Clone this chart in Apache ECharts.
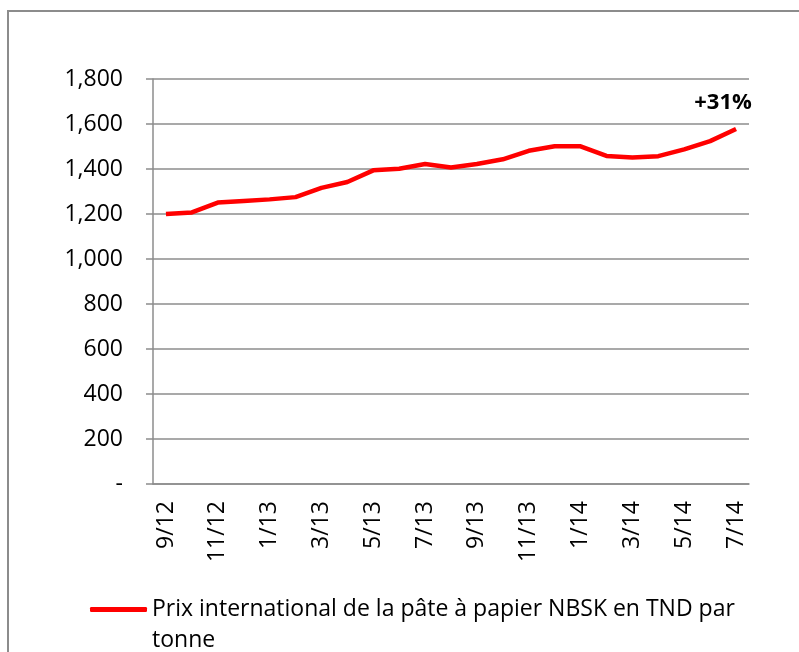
<!DOCTYPE html>
<html>
<head>
<meta charset="utf-8">
<script src="https://cdn.jsdelivr.net/npm/echarts@6/dist/echarts.min.js"></script>
<style>
html,body{margin:0;padding:0;background:#fff;}
#chart{width:799px;height:652px;}
</style>
</head>
<body>
<div id="chart"></div>
<script>
const categories = ['9/12','10/12','11/12','12/12','1/13','2/13','3/13','4/13','5/13','6/13','7/13','8/13','9/13','10/13','11/13','12/13','1/14','2/14','3/14','4/14','5/14','6/14','7/14'];
const prices = [1200,1207,1251,1258,1265,1275,1316,1342,1394,1401,1422,1407,1422,1443,1481,1501,1501,1458,1451,1457,1487,1524,1578];
const seriesName = 'Prix international de la pâte à papier NBSK en TND par tonne';
const legendLines = ['Prix international de la pâte à papier NBSK en TND par', 'tonne'];
const annotation = '+31%';
const yMin = 0, yMax = 1800, yStep = 200;

const FONT = 'Open Sans';
const GRAY = '#8c8c8c';

const data = prices.map((v, i) => {
  if (i === prices.length - 1) {
    return {
      value: v,
      label: {
        show: true, position: 'top', offset: [-13, -10],
        formatter: annotation,
        fontFamily: FONT, fontWeight: 'bold', fontSize: 22, color: '#000'
      }
    };
  }
  return v;
});

const chart = echarts.init(document.getElementById('chart'), null, {renderer: 'canvas'});
chart.setOption({
  animation: false,
  backgroundColor: '#fff',
  textStyle: {fontFamily: FONT},
  graphic: [{
    type: 'rect', z: 100, silent: true,
    shape: {x: 8, y: 11, width: 1000, height: 1000},
    style: {fill: 'none', stroke: GRAY, lineWidth: 2}
  }],
  grid: {left: 153, right: 50, top: 79, bottom: 168, containLabel: false},
  legend: {
    left: 90, top: 563, padding: 0,
    itemWidth: 57, itemHeight: 5, itemGap: 0,
    data: [{name: seriesName, icon: 'roundRect'}],
    formatter: function () { return '\u00a0\n' + legendLines.join('\n'); },
    textStyle: {fontFamily: FONT, fontSize: 23, color: '#000', lineHeight: 31}
  },
  xAxis: {
    type: 'category',
    data: categories,
    boundaryGap: true,
    axisLine: {lineStyle: {color: GRAY, width: 1.5}},
    axisTick: {interval: 1, length: 7, lineStyle: {color: GRAY, width: 1.5}},
    axisLabel: {interval: 1, rotate: 90, margin: 17, fontFamily: FONT, fontSize: 23, color: '#000'},
    splitLine: {show: false}
  },
  yAxis: {
    type: 'value',
    min: yMin, max: yMax, interval: yStep,
    axisLine: {show: true, lineStyle: {color: GRAY, width: 1.5}},
    axisTick: {show: true, length: 7, lineStyle: {color: GRAY, width: 1.5}},
    axisLabel: {
      margin: 30, fontFamily: FONT, fontSize: 23, color: '#000',
      formatter: v => v === 0 ? '-' : v.toLocaleString('en-US')
    },
    splitLine: {lineStyle: {color: GRAY, width: 1.5}}
  },
  series: [{
    name: seriesName,
    type: 'line',
    data: data,
    symbol: 'circle',
    symbolSize: 0.01,
    showSymbol: true,
    smooth: false,
    lineStyle: {color: '#ff0000', width: 4.5},
    itemStyle: {color: '#ff0000'}
  }]
});
</script>
</body>
</html>
